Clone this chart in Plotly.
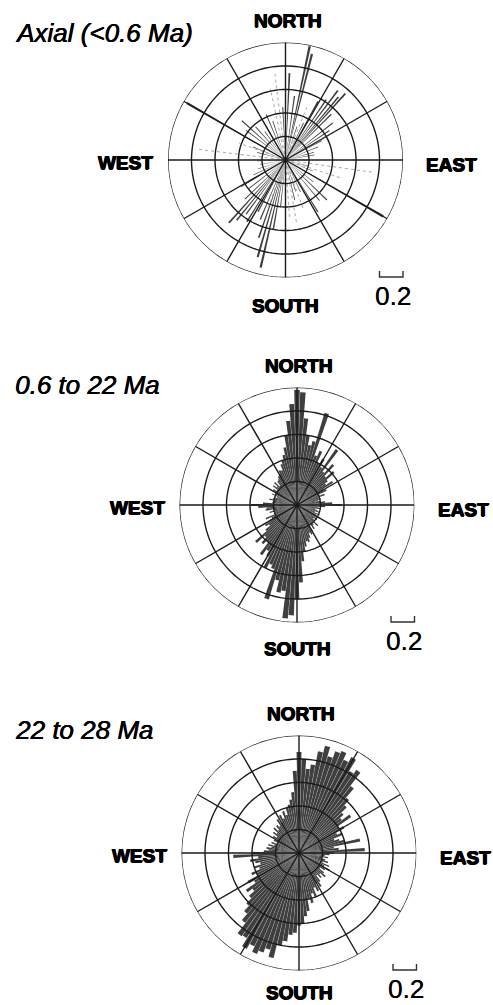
import plotly.graph_objects as go

# ---- figure geometry (pixels) ----
W, H = 493, 1005
R_PX = 117.5
CENTERS = [(285.5, 160.0), (297.0, 505.0), (299.0, 853.0)]
SOUTH_DY = [145, 143, 139]

# ---- labels ----
TITLES = ["Axial (<0.6 Ma)", "0.6 to 22 Ma", "22 to 28 Ma"]
COMPASS = ["NORTH", "SOUTH", "WEST", "EAST"]
SCALE_LABEL = "0.2"
SCALE_VALUE = 0.2
RING_VALUES = [0.2, 0.4, 0.6, 0.8, 1.0]
SPOKE_ANGLES = [0, 30, 60, 90, 120, 150, 180, 210, 240, 270, 300, 330]

# ---- rose 1: axial (<0.6 Ma), individual azimuths ----
axial_theta = [2.6, 8, 12, 14, 19, 26, 29, 34, 37, 40, 42, 45, 52, 56, 62, 68,
               75, 80, 90, 105, 112, 120, 128, 134, 140, 148, 155, 162, 167,
               186, 190, 193, 196, 199, 203, 208, 212, 216, 219, 222, 226, 232,
               239, 245, 252, 260, 268, 285, 292, 300, 307, 312, 318, 324, 330,
               337, 342, 357]
axial_r = [0.74, 0.55, 0.99, 0.93, 0.3, 0.35, 0.57, 0.62, 0.74, 0.7, 0.76, 0.55,
           0.51, 0.45, 0.35, 0.3, 0.25, 0.25, 0.2, 0.2, 0.25, 0.96, 0.3, 0.49,
           0.45, 0.52, 0.3, 0.28, 0.35, 0.4, 0.6, 0.94, 0.86, 0.7, 0.55, 0.5,
           0.62, 0.57, 0.66, 0.72, 0.48, 0.4, 0.44, 0.3, 0.25, 0.22, 0.24,
           0.25, 0.3, 0.97, 0.42, 0.5, 0.38, 0.3, 0.35, 0.42, 0.35, 0.45]
# faint (dotted) azimuths
axial_faint_theta = [277, 98, 353, 348, 176, 170, 108, 160, 200, 22, 290, 330]
axial_faint_r = [0.77, 0.75, 0.76, 0.62, 0.5, 0.55, 0.5, 0.45, 0.45, 0.5, 0.42, 0.55]

# ---- roses 2 and 3: 3-degree bins ----
bin_theta = list(range(0, 360, 3))
r_06_22 = [0.98, 0.96, 0.74, 0.6, 0.52, 0.56, 0.82, 0.45, 0.5, 0.4,
           0.45, 0.38, 0.58, 0.36, 0.46, 0.34, 0.42, 0.33, 0.3, 0.36,
           0.26, 0.28, 0.21, 0.25, 0.19, 0.21, 0.18, 0.2, 0.24, 0.3,
           0.38, 0.24, 0.18, 0.2, 0.16, 0.18, 0.2, 0.16, 0.21, 0.18,
           0.23, 0.19, 0.21, 0.18, 0.2, 0.25, 0.2, 0.22, 0.25, 0.2,
           0.26, 0.28, 0.26, 0.3, 0.33, 0.32, 0.36, 0.4, 0.48, 0.66,
           0.8, 0.94, 0.97, 0.74, 0.76, 0.66, 0.84, 0.58, 0.55, 0.6,
           0.5, 0.46, 0.52, 0.4, 0.44, 0.38, 0.47, 0.34, 0.29, 0.32,
           0.27, 0.24, 0.29, 0.21, 0.2, 0.24, 0.21, 0.27, 0.26, 0.33,
           0.39, 0.29, 0.21, 0.2, 0.24, 0.21, 0.2, 0.18, 0.23, 0.21,
           0.2, 0.24, 0.21, 0.26, 0.23, 0.27, 0.22, 0.26, 0.27, 0.29,
           0.3, 0.33, 0.32, 0.37, 0.4, 0.44, 0.5, 0.6, 0.72, 0.86]
r_22_28 = [0.86, 0.8, 0.72, 0.76, 0.88, 0.94, 0.86, 0.92, 0.94, 0.88,
           0.93, 0.82, 0.86, 0.72, 0.62, 0.56, 0.5, 0.46, 0.54, 0.4,
           0.44, 0.36, 0.4, 0.32, 0.36, 0.4, 0.53, 0.3, 0.34, 0.56,
           0.3, 0.26, 0.22, 0.25, 0.2, 0.23, 0.26, 0.22, 0.28, 0.24,
           0.3, 0.26, 0.22, 0.27, 0.3, 0.25, 0.28, 0.24, 0.3, 0.34,
           0.3, 0.36, 0.32, 0.4, 0.36, 0.44, 0.4, 0.5, 0.54, 0.6,
           0.62, 0.68, 0.7, 0.76, 0.8, 0.92, 0.86, 0.9, 0.93, 0.88,
           0.93, 0.85, 0.86, 0.75, 0.68, 0.62, 0.56, 0.5, 0.55, 0.45,
           0.5, 0.4, 0.44, 0.36, 0.4, 0.34, 0.38, 0.42, 0.35, 0.56,
           0.4, 0.3, 0.26, 0.28, 0.24, 0.27, 0.22, 0.25, 0.2, 0.24,
           0.22, 0.26, 0.23, 0.28, 0.25, 0.3, 0.26, 0.3, 0.28, 0.34,
           0.3, 0.36, 0.32, 0.38, 0.34, 0.4, 0.42, 0.46, 0.52, 0.7]

INK = "#1a1a1a"
BAR = "#3f3f3f"
FAINT = "#a8a8a8"


def fx(x):
    return x / W


def fy(y):
    return 1 - y / H


fig = go.Figure()

polar_names = ["polar", "polar2", "polar3"]


def add_grid(sub):
    # rings and spokes drawn over the bars
    ring_t, ring_r = [], []
    for rv in RING_VALUES:
        ring_t += list(range(0, 361, 2)) + [None]
        ring_r += [rv] * 181 + [None]
    fig.add_trace(go.Scatterpolar(theta=ring_t, r=ring_r, mode="lines",
                                  line=dict(color=INK, width=1.4),
                                  hoverinfo="skip", subplot=sub, showlegend=False))
    sp_t, sp_r = [], []
    for a in SPOKE_ANGLES:
        sp_t += [a, a, None]
        sp_r += [0, RING_VALUES[-1], None]
    fig.add_trace(go.Scatterpolar(theta=sp_t, r=sp_r, mode="lines",
                                  line=dict(color=INK, width=1.4),
                                  hoverinfo="skip", subplot=sub, showlegend=False))


# rose 1
fig.add_trace(go.Barpolar(theta=axial_theta, r=axial_r, width=[1.2] * len(axial_theta),
                          marker=dict(color=BAR, line=dict(width=0)),
                          subplot="polar", showlegend=False))
ft, fr = [], []
for t, r in zip(axial_faint_theta, axial_faint_r):
    ft += [t, t, None]
    fr += [0, r, None]
fig.add_trace(go.Scatterpolar(theta=ft, r=fr, mode="lines",
                              line=dict(color=FAINT, width=1, dash="dot"),
                              subplot="polar", showlegend=False))
add_grid("polar")

# rose 2
fig.add_trace(go.Barpolar(theta=bin_theta, r=r_06_22, width=[2.8] * len(bin_theta),
                          marker=dict(color=BAR, line=dict(width=0)),
                          subplot="polar2", showlegend=False))
add_grid("polar2")

# rose 3
fig.add_trace(go.Barpolar(theta=bin_theta, r=r_22_28, width=[2.8] * len(bin_theta),
                          marker=dict(color=BAR, line=dict(width=0)),
                          subplot="polar3", showlegend=False))
add_grid("polar3")

layout_polars = {}
annotations = []
shapes = []
heavy = "0.6px 0 0 #000, -0.6px 0 0 #000, 0 0.5px 0 #000, 0 -0.4px 0 #000"
for i, (cx, cy) in enumerate(CENTERS):
    layout_polars[polar_names[i]] = dict(
        domain=dict(x=[fx(cx - R_PX), fx(cx + R_PX)],
                    y=[fy(cy + R_PX), fy(cy - R_PX)]),
        bgcolor="white",
        radialaxis=dict(range=[0, RING_VALUES[-1]], showgrid=False, showline=False,
                        showticklabels=False, ticks=""),
        angularaxis=dict(direction="clockwise", rotation=90, showgrid=False,
                         showline=False, showticklabels=False, ticks=""),
    )
    title_dy = [-127, -120, -123][i]
    annotations.append(dict(text=TITLES[i], x=fx(13), y=fy(cy + title_dy),
                            xref="paper", yref="paper", xanchor="left", yanchor="middle",
                            showarrow=False,
                            font=dict(family="Liberation Sans", size=26, color="#000",
                                      style="italic",
                                      shadow="0.5px 0 0 #000, 0 0.3px 0 #000")))
    pos = {"NORTH": (cx + 2, cy - 140), "SOUTH": (cx, cy + SOUTH_DY[i]),
           "WEST": (cx - 160, cy + 2), "EAST": (cx + 166, cy + 4)}
    for lab in COMPASS:
        px, py = pos[lab]
        annotations.append(dict(text=lab, x=fx(px), y=fy(py), xref="paper", yref="paper",
                                xanchor="center", yanchor="middle", showarrow=False,
                                font=dict(family="Liberation Sans", size=19, color="#000",
                                          weight="bold", shadow=heavy)))
    annotations.append(dict(text=SCALE_LABEL, x=fx(cx + 107), y=fy(cy + 136),
                            xref="paper", yref="paper", xanchor="center", yanchor="middle",
                            showarrow=False,
                            font=dict(family="Liberation Sans", size=26, color="#000",
                                      shadow="0.3px 0 0 #000")))
    # scale bracket, one SCALE_VALUE long in radial units
    bar_len = SCALE_VALUE / RING_VALUES[-1] * R_PX
    x0 = cx + 94
    x1 = x0 + bar_len
    y0, y1 = cy + 111, cy + 117
    shapes.append(dict(type="path", xref="paper", yref="paper",
                       path=f"M {fx(x0)},{fy(y0)} L {fx(x0)},{fy(y1)} L {fx(x1)},{fy(y1)} L {fx(x1)},{fy(y0)}",
                       line=dict(color="#333", width=1.4)))

fig.update_layout(width=W, height=H, margin=dict(l=0, r=0, t=0, b=0),
                  paper_bgcolor="white", plot_bgcolor="white",
                  annotations=annotations, shapes=shapes, **layout_polars)

fig.write_html("out.html")
